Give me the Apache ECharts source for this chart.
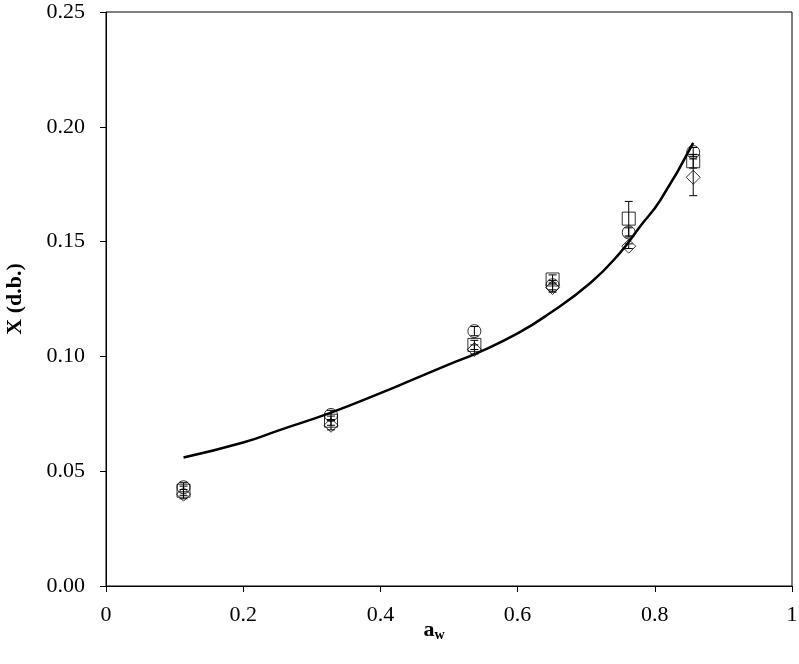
<!DOCTYPE html>
<html>
<head>
<meta charset="utf-8">
<script src="https://cdn.jsdelivr.net/npm/echarts@6/dist/echarts.min.js"></script>
<style>html,body{margin:0;padding:0;background:#fff}#c{width:799px;height:664px}</style>
</head>
<body>
<div id="c"></div>
<script>
var aw = [0.113, 0.328, 0.537, 0.651, 0.762, 0.856];
var circleVals = [0.043, 0.0745, 0.111, 0.131, 0.154, 0.189];
var squareVals = [0.0415, 0.072, 0.105, 0.1335, 0.160, 0.185];
var diamondVals = [0.040, 0.070, 0.103, 0.130, 0.148, 0.178];
var circleErr = [0.002, 0.002, 0.002, 0.002, 0.002, 0.002];
var squareErr = [0.002, 0.002, 0.002, 0.002, 0.0075, 0.003];
var diamondErr = [0.002, 0.002, 0.002, 0.002, 0.001, 0.008];
var curveX = [0.113, 0.2, 0.254, 0.328, 0.4, 0.448, 0.5, 0.545, 0.6, 0.643, 0.706, 0.749, 0.778, 0.808, 0.856];
var curveY = [0.056, 0.0625, 0.068, 0.0755, 0.084, 0.090, 0.0965, 0.102, 0.110, 0.118, 0.132, 0.145, 0.1564, 0.168, 0.193];
var yTicks = ['0.00','0.05','0.10','0.15','0.20','0.25'];

function pairs(xs, ys){ return xs.map(function(x,i){ return [x, ys[i]]; }); }
function errData(xs, ys, es){ return xs.map(function(x,i){ return [x, ys[i]-es[i], ys[i]+es[i]]; }); }
function errSeries(data){
  return {
    type: 'custom', z: 3,
    renderItem: function(params, api){
      var x = api.value(0);
      var lo = api.coord([x, api.value(1)]);
      var hi = api.coord([x, api.value(2)]);
      var w = 4;
      var st = {stroke:'#000', lineWidth:1, fill:null};
      return {type:'group', children:[
        {type:'line', shape:{x1:lo[0],y1:lo[1],x2:hi[0],y2:hi[1]}, style:st},
        {type:'line', shape:{x1:lo[0]-w,y1:lo[1],x2:lo[0]+w,y2:lo[1]}, style:st},
        {type:'line', shape:{x1:hi[0]-w,y1:hi[1],x2:hi[0]+w,y2:hi[1]}, style:st}
      ]};
    },
    encode: {x:0, y:[1,2]},
    data: data
  };
}
function scatter(symbol, data, size){
  return {type:'scatter', symbol:symbol, symbolSize:size, z:4,
    itemStyle:{color:'rgba(255,255,255,0)', borderColor:'#000', borderWidth:1},
    data:data};
}
var font = 'Liberation Serif, Times New Roman, serif';
var chart = echarts.init(document.getElementById('c'), null, {renderer:'canvas'});
chart.setOption({
  animation:false,
  backgroundColor:'#fff',
  grid:{left:106, right:7, top:12, bottom:78, containLabel:false, outerBoundsMode:'none', show:true, borderColor:'#000', borderWidth:1, backgroundColor:'transparent'},
  xAxis:{type:'value', min:0, max:1, interval:0.2,
    name:'{a|a}{w|w}', nameLocation:'middle', nameGap:32, nameMoveOverlap:false,
    nameTextStyle:{rich:{a:{fontFamily:font, fontWeight:'bold', fontSize:22, color:'#000'}, w:{fontFamily:font, fontWeight:'bold', fontSize:14, color:'#000', verticalAlign:'bottom', padding:[10,0,0,0]}}, padding:[0,30,0,0]},
    axisLine:{lineStyle:{color:'#000', width:1}},
    axisTick:{inside:false, length:6, lineStyle:{color:'#000'}},
    splitLine:{show:false},
    axisLabel:{color:'#000', fontFamily:font, fontSize:22, margin:18}
  },
  yAxis:{type:'value', min:0, max:0.25, interval:0.05,
    name:'X (d.b.)', nameLocation:'middle', nameGap:80, nameRotate:90, nameMoveOverlap:false,
    nameTextStyle:{fontFamily:font, fontWeight:'bold', fontSize:22, color:'#000'},
    axisLine:{show:true, lineStyle:{color:'#000', width:1}},
    axisTick:{show:true, inside:false, length:6, lineStyle:{color:'#000'}},
    splitLine:{show:false},
    axisLabel:{color:'#000', fontFamily:font, fontSize:22, margin:21,
      formatter:function(v){ return yTicks[Math.round(v/0.05)]; }}
  },
  series:[
    {type:'line', smooth:0.5, symbol:'none', z:5, lineStyle:{color:'#000', width:2.5}, data:pairs(curveX, curveY)},
    errSeries(errData(aw, circleVals, circleErr)),
    errSeries(errData(aw, squareVals, squareErr)),
    errSeries(errData(aw, diamondVals, diamondErr)),
    scatter('circle', pairs(aw, circleVals), 13),
    scatter('rect', pairs(aw, squareVals), 13),
    scatter('diamond', pairs(aw, diamondVals), 14)
  ]
});
</script>
</body>
</html>
